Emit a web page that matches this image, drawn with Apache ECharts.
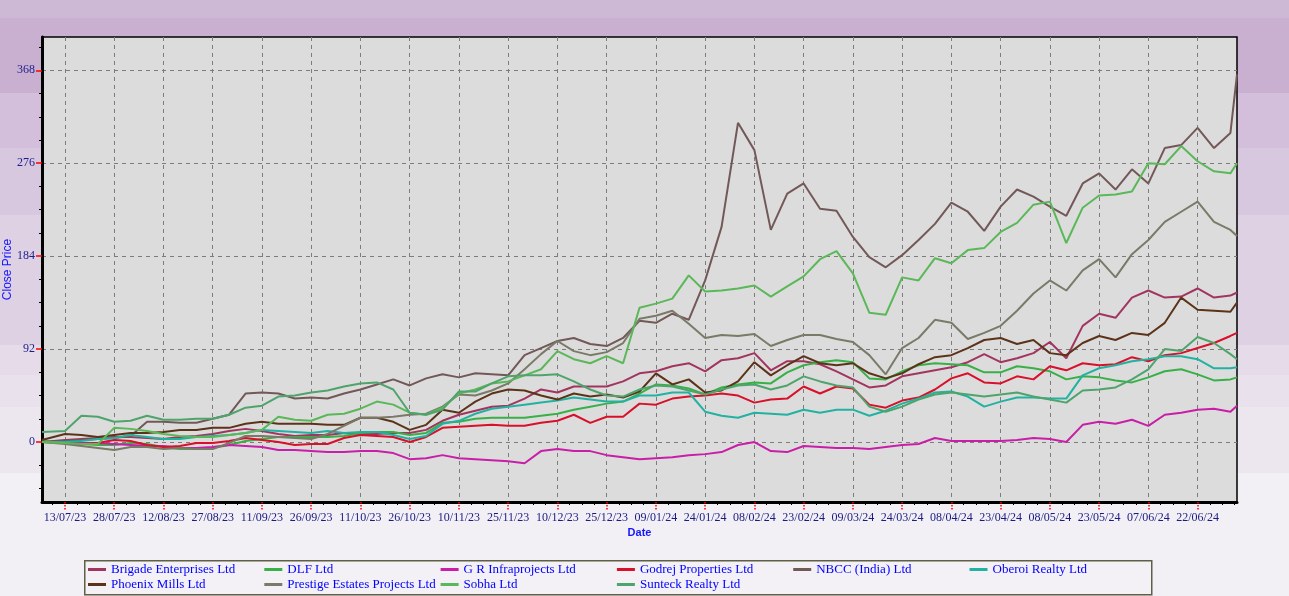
<!DOCTYPE html>
<html><head><meta charset="utf-8">
<script src="https://cdn.jsdelivr.net/npm/echarts@6/dist/echarts.min.js"></script>
<style>
html,body{margin:0;padding:0;width:1289px;height:596px;overflow:hidden;
background:linear-gradient(to bottom,#cdb8d6 0px,#cdb8d6 18px,#c9b0d0 18px,#c9b0d0 93px,#d3bfdb 93px,#d3bfdb 148px,#d8c8df 148px,#d8c8df 215px,#ded1e4 215px,#ded1e4 345px,#e6dce9 345px,#e6dce9 375px,#e9e1ec 375px,#e9e1ec 407px,#ece6ef 407px,#ece6ef 473px,#f2f0f5 473px,#f2f0f5 596px);}
#c{width:1289px;height:596px;}
</style></head><body><div id="c"></div><script>
const dates = ['2023-07-06','2023-07-13','2023-07-18','2023-07-23','2023-07-28','2023-08-02','2023-08-07','2023-08-12','2023-08-17','2023-08-22','2023-08-27','2023-09-01','2023-09-06','2023-09-11','2023-09-16','2023-09-21','2023-09-26','2023-10-01',
'2023-10-06','2023-10-11','2023-10-16','2023-10-21','2023-10-26','2023-10-31','2023-11-05','2023-11-10','2023-11-15','2023-11-20','2023-11-25','2023-11-30','2023-12-05','2023-12-10','2023-12-15','2023-12-20','2023-12-25','2023-12-30',
'2024-01-04','2024-01-09','2024-01-14','2024-01-19','2024-01-24','2024-01-29','2024-02-03','2024-02-08','2024-02-13','2024-02-18','2024-02-23','2024-02-28','2024-03-04','2024-03-09','2024-03-14','2024-03-19','2024-03-24','2024-03-29','2024-04-03',
'2024-04-08','2024-04-13','2024-04-18','2024-04-23','2024-04-28','2024-05-03','2024-05-08','2024-05-13','2024-05-18','2024-05-23','2024-05-28','2024-06-02','2024-06-07','2024-06-12','2024-06-17','2024-06-22','2024-06-27','2024-07-02','2024-07-04'];

const names = ['Brigade Enterprises Ltd','DLF Ltd','G R Infraprojects Ltd','Godrej Properties Ltd','NBCC (India) Ltd','Oberoi Realty Ltd','Phoenix Mills Ltd','Prestige Estates Projects Ltd','Sobha Ltd','Sunteck Realty Ltd'];

const brigade = [0,2,3,4,5,5,4,3,5,6,8,11,13,11,8,6,7,7,
 9,8,8,9,9,12,21,27,31,35,36,43,52,49,55,55,55,60,
 68,70,75,78,70,81,83,88,71,80,80,77,70,62,54,56,65,68,71,
 74,79,87,79,83,88,99,83,115,127,123,143,150,143,144,152,143,145,148];
const dlf = [1,-1,-2,-3,-3,-1,-2,-5,-7,-7,-6,-3,1,3,5,5,5,5,
 6,9,10,10,7,9,19,20,23,24,24,24,26,28,32,35,38,40,
 48,57,56,53,47,54,57,59,58,69,76,79,81,79,63,62,70,76,78,
 77,76,69,69,75,73,70,62,65,64,61,59,64,70,72,67,61,62,64];
const grInfra = [0,0,-1,-1,-2,-3,-4,-4,-6,-6,-5,-3,-4,-5,-8,-8,-9,-10,
 -10,-9,-9,-11,-17,-16,-13,-16,-17,-18,-19,-21,-9,-7,-9,-9,-13,-15,
 -17,-16,-15,-13,-12,-10,-3,0,-9,-10,-4,-5,-6,-6,-7,-5,-3,-2,4,
 1,1,1,1,2,4,3,0,17,20,18,22,16,27,29,32,33,30,36];
const godrej = [0,-1,-2,-1,2,1,-3,-5,-4,-1,-1,1,4,2,0,-3,-2,-2,
 4,7,6,5,0,5,14,15,16,17,16,16,19,21,27,19,25,25,
 38,37,43,45,46,48,46,39,42,43,55,48,55,53,37,34,41,44,52,
 63,68,59,58,65,62,75,71,78,76,77,84,80,86,88,93,98,105,108];
const nbcc = [0,1,2,3,4,6,20,20,19,19,23,27,48,49,48,43,44,43,
 48,52,57,62,56,63,67,64,68,67,66,86,93,100,103,97,95,103,
 120,118,127,121,160,213,316,289,210,246,256,231,229,203,183,173,185,200,216,
 237,228,209,233,250,243,233,224,256,266,250,270,256,291,294,311,291,306,364];
const oberoi = [0,0,1,3,4,7,5,3,3,5,6,7,9,12,11,10,9,11,
 9,10,10,7,3,6,18,21,28,33,35,37,39,41,44,42,40,40,
 46,46,49,49,30,26,24,29,28,27,32,29,32,32,26,31,38,43,49,
 50,45,35,40,44,44,43,43,66,73,76,80,82,85,85,82,73,73,74];
const phoenix = [2,8,7,5,7,9,9,10,12,12,14,14,18,20,18,18,18,17,
 17,24,24,20,12,17,32,29,40,48,52,51,46,42,48,45,47,44,
 50,68,57,62,49,51,60,79,66,76,85,78,76,78,68,63,68,77,84,
 86,93,101,103,97,101,88,86,98,105,101,108,106,118,143,131,130,129,138];
const prestige = [0,-2,-4,-6,-8,-5,-5,-7,-6,-7,-7,-1,6,6,5,4,3,8,
 16,24,24,25,27,28,35,47,46,51,58,72,87,100,90,86,89,98,
 122,125,130,117,103,106,105,107,95,101,106,106,102,99,86,67,93,103,121,
 118,102,108,115,130,147,160,150,170,181,163,186,200,218,228,238,218,210,204];
const sobha = [0,-1,-2,-2,14,13,11,8,6,5,5,7,9,12,25,22,21,27,
 28,33,40,37,29,27,34,48,52,58,60,66,72,90,82,78,85,78,
 133,137,142,165,149,150,152,155,144,154,164,181,189,167,128,126,163,160,182,
 177,190,192,208,217,235,238,197,232,244,245,248,276,275,293,278,268,266,276];
const sunteck = [10,11,26,25,20,21,26,22,22,23,23,27,34,36,45,46,49,51,
 55,58,59,52,29,27,32,50,50,58,65,66,66,67,60,52,46,45,
 52,56,55,51,47,52,56,57,52,56,65,60,56,54,35,30,35,42,47,
 49,47,45,47,49,45,42,39,51,52,54,62,72,92,90,104,98,87,82];

const seriesValues = [brigade, dlf, grInfra, godrej, nbcc, oberoi, phoenix, prestige, sobha, sunteck];
const colors = ['#a2355f','#38b048','#c81ea8','#d9102a','#735858','#22b2a2','#5c3319','#7a7a68','#5ab858','#4fa46c'];

const tickDates = ['2023-07-13','2023-07-28','2023-08-12','2023-08-27','2023-09-11','2023-09-26','2023-10-11','2023-10-26','2023-11-10','2023-11-25','2023-12-10','2023-12-25','2024-01-09','2024-01-24','2024-02-08','2024-02-23','2024-03-09','2024-03-24','2024-04-08','2024-04-23','2024-05-08','2024-05-23','2024-06-07','2024-06-22'];
const yTicks = [0,92,184,276,368];
const yMinorTicks = [-46,-23,23,46,69,115,138,161,207,230,253,299,322,345,391];
const xMin = '2023-07-06', xMax = '2024-07-04';
const yMin = -59.4, yMax = 401;

function ts(s){const p=s.split('-');return Date.UTC(+p[0],+p[1]-1,+p[2]);}
function fmt(v){const d=new Date(v);const p=n=>(n<10?'0':'')+n;return p(d.getUTCDate())+'/'+p(d.getUTCMonth()+1)+'/'+p(d.getUTCFullYear()%100);}

const DAY = 86400000;
const majorX = tickDates.map(ts);
const minorX = [];
for (let k=-1;k<majorX.length;k++){
  const base = k<0 ? majorX[0]-15*DAY : majorX[k];
  for (let j=1;j<4;j++){const t=base+j*3.75*DAY; if(t>ts(xMin)&&t<ts(xMax)) minorX.push(t);}
}

const chart = echarts.init(document.getElementById('c'), null, {renderer:'canvas'});
const labelFont = 'Liberation Serif';
const option = {
  animation:false,
  backgroundColor:'transparent',
  grid:{left:42,top:37,right:52,bottom:94,show:true,backgroundColor:'#dcdcdc',borderColor:'#000',borderWidth:1.5,
        containLabel:false,outerBoundsMode:'none'},
  xAxis:[{
    type:'value',min:ts(xMin),max:ts(xMax),position:'bottom',
    axisLine:{show:true,onZero:false,lineStyle:{color:'#000',width:3}},
    axisTick:{show:true,customValues:majorX,length:9,lineStyle:{color:'#ff0000',type:'dotted',width:1.5}},
    axisLabel:{customValues:majorX,formatter:fmt,color:'#1a1a80',fontFamily:labelFont,fontSize:12,margin:10},
    splitLine:{show:true,lineStyle:{color:'#7c7c7c',type:[4,4],width:1}},
    name:'Date',nameLocation:'middle',nameGap:25,nameMoveOverlap:false,
    nameTextStyle:{color:'#1515ff',fontFamily:'Liberation Sans',fontSize:11,fontWeight:'bold'}
  },{
    type:'value',min:ts(xMin),max:ts(xMax),position:'bottom',
    axisLine:{show:false,onZero:false},
    axisTick:{show:true,customValues:minorX,length:3,lineStyle:{color:'#000',width:1}},
    axisLabel:{show:false},splitLine:{show:false}
  }],
  yAxis:[{
    type:'value',min:yMin,max:yMax,position:'left',
    axisLine:{show:true,onZero:false,lineStyle:{color:'#000',width:3}},
    axisTick:{show:true,customValues:yTicks,length:6,lineStyle:{color:'#ff0000',width:1.5}},
    axisLabel:{customValues:yTicks,color:'#1c1c8c',fontFamily:labelFont,fontSize:12,margin:7},
    splitLine:{show:true,lineStyle:{color:'#7c7c7c',type:[4,4],width:1}},
    name:'Close Price',nameLocation:'middle',nameGap:28,nameRotate:90,nameMoveOverlap:false,
    nameTextStyle:{color:'#1515ff',fontFamily:'Liberation Sans',fontSize:12}
  },{
    type:'value',min:yMin,max:yMax,position:'left',
    axisLine:{show:false,onZero:false},
    axisTick:{show:true,customValues:yMinorTicks,length:3,lineStyle:{color:'#000',width:1}},
    axisLabel:{show:false},splitLine:{show:false}
  }],
  legend: names.map((n,i)=>({
    data:[n], left: 88 + (i%6)*176.3, top: i<6 ? 563 : 578,
    icon:'rect', itemWidth:18, itemHeight:3, itemGap:0, padding:0, selectedMode:false,
    textStyle:{fontFamily:labelFont,fontSize:13,color:'#0000ff'}
  })),
  graphic:[{type:'rect',left:84,top:560,shape:{width:1067,height:34},z:-1,
    style:{fill:'#f3f1f5',stroke:'#5f5f45',lineWidth:1.5}}],
  series: seriesValues.map((vals,i)=>({
    name:names[i],type:'line',xAxisIndex:0,yAxisIndex:0,
    data:dates.map((d,k)=>[ts(d),vals[k]]),
    showSymbol:false,symbol:'none',
    lineStyle:{color:colors[i],width:2},itemStyle:{color:colors[i]},
    z:3
  }))
};
chart.setOption(option);
</script></body></html>
